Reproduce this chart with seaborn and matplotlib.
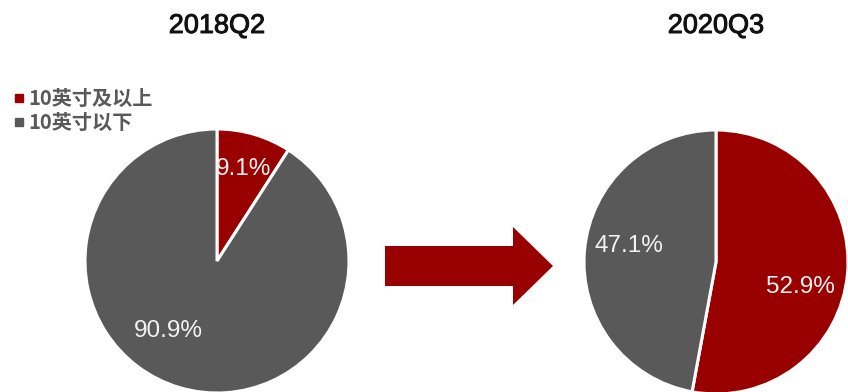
import matplotlib
matplotlib.use("Agg")
import matplotlib.pyplot as plt
from matplotlib.lines import Line2D
from matplotlib.patches import Polygon
from matplotlib import patheffects
import seaborn as sns

# Tablet shipment share by screen size
categories = ["10英寸及以上", "10英寸以下"]
periods = ["2018Q2", "2020Q3"]
share_2018q2 = [9.1, 90.9]
share_2020q3 = [52.9, 47.1]
colors = ["#990000", "#595959"]

# label anchor points inside each pie (unit-circle coordinates)
label_xy_2018q2 = [(0.20, 0.70), (-0.37, -0.53)]
label_xy_2020q3 = [(0.64, -0.19), (-0.66, 0.12)]

sns.set_theme(style="white")
plt.rcParams["font.family"] = ["Liberation Sans", "DejaVu Sans"]

W, H = 848, 392
fig = plt.figure(figsize=(W / 100, H / 100), dpi=100)


def pie_axes(cx, cy, r):
    return fig.add_axes([(cx - r) / W, (H - cy - r) / H, 2 * r / W, 2 * r / H])


def draw_pie(ax, values, label_xy, title, title_y):
    wedges, _ = ax.pie(values, colors=colors, startangle=90, counterclock=False,
                       wedgeprops=dict(edgecolor="white", linewidth=2.2))
    for (x, y), v in zip(label_xy, values):
        ax.text(x, y, f"{v:.1f}%", ha="center", va="center", color="#f2f2f2",
                fontsize=17.5, family="Liberation Sans")
    ax.set_xlim(-1.0, 1.0)
    ax.set_ylim(-1.0, 1.0)
    ax.set_aspect("equal")
    ax.axis("off")
    pos = ax.get_position()
    fig.text(pos.x0 + pos.width / 2, title_y, title,
             ha="center", va="center", fontsize=19.5, color="#111111",
             family="Liberation Sans",
             path_effects=[patheffects.withStroke(linewidth=0.7,
                                                  foreground="#111111")])
    return wedges


ax1 = pie_axes(217, 261, 132)
draw_pie(ax1, share_2018q2, label_xy_2018q2, periods[0], 1 - 26 / H)

ax2 = pie_axes(716, 262, 132)
draw_pie(ax2, share_2020q3, label_xy_2020q3, periods[1], 1 - 26 / H)

# transition arrow between the two pies
overlay = fig.add_axes([0, 0, 1, 1], zorder=-1)
overlay.set_xlim(0, W)
overlay.set_ylim(H, 0)
overlay.axis("off")
arrow = Polygon([(385, 246), (513, 246), (513, 227), (553, 266),
                 (513, 305), (513, 286), (385, 286)],
                closed=True, facecolor="#990000", edgecolor="none")
overlay.add_patch(arrow)

handles = [Line2D([], [], marker="s", linestyle="none", markersize=5.5,
                  markerfacecolor=c, markeredgecolor=c) for c in colors]
leg = fig.legend(handles, categories, loc="upper left",
                 bbox_to_anchor=(0 / W, 1 - 74 / H), frameon=False,
                 handlelength=0.45, handletextpad=0.25, labelspacing=0.15,
                 borderpad=0.2,
                 prop=dict(family=["Noto Sans CJK SC", "DejaVu Sans"],
                           weight="bold", size=14.5))
for t in leg.get_texts():
    t.set_color("#595959")

fig.savefig("out.png", dpi=100)
